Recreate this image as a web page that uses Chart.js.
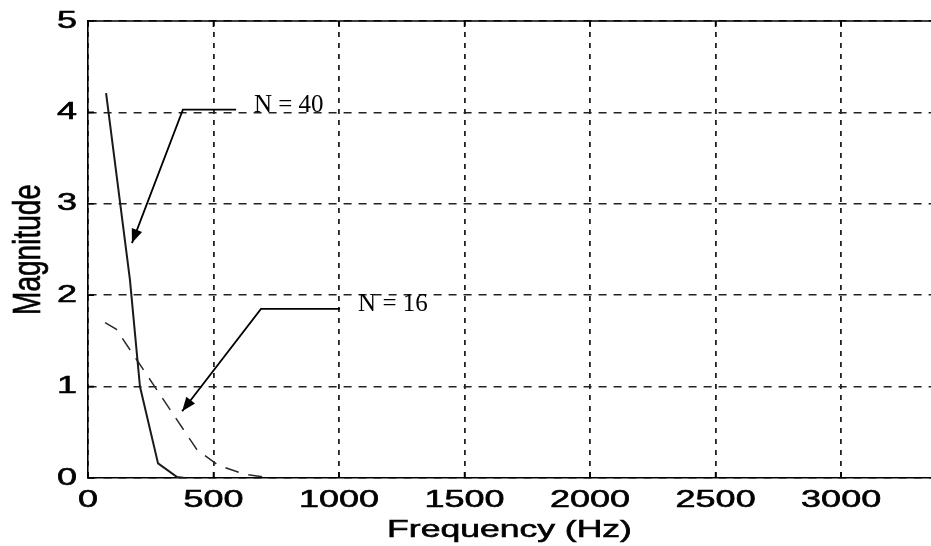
<!DOCTYPE html>
<html>
<head>
<meta charset="utf-8">
<title>Magnitude vs Frequency</title>
<script src="https://cdn.jsdelivr.net/npm/chart.js@4.4.1/dist/chart.umd.min.js"></script>
<style>
  html, body { margin: 0; padding: 0; background: #fff; overflow: hidden; }
  canvas { display: block; }
</style>
</head>
<body>
<canvas id="spectrum" width="931" height="546"></canvas>
<script>
// magnitude response, N = 40 (solid)
const freqN40 = [72, 167, 207, 279, 355, 386];
const magN40  = [4.21, 2.17, 1.0, 0.16, 0.01, 0];

// magnitude response, N = 16 (dashed)
const freqN16 = [68, 112, 434, 518, 625, 733];
const magN16  = [1.70, 1.63, 0.31, 0.14, 0.04, 0];

const xTicks = [0, 500, 1000, 1500, 2000, 2500, 3000];
const yTicks = [0, 1, 2, 3, 4, 5];

// callouts: label anchor, leader start, elbow, arrow tip (all in data units)
const calloutText  = ['N = 40', 'N = 16'];
const calloutLabel = [[661, 4.0], [1076, 1.83]];
const calloutStart = [[590, 4.03], [1004, 1.85]];
const calloutElbow = [[378, 4.03], [689, 1.85]];
const calloutTip   = [[175, 2.57], [375, 0.73]];

const SANS = '"Liberation Sans", Arial, sans-serif';
const SERIF = '"Liberation Serif", "Times New Roman", serif';

function toPoints(xs, ys) {
  return xs.map((x, i) => ({ x: x, y: ys[i] }));
}

// text drawn with a horizontal stretch (the old plot fonts are wide)
function wideText(ctx, text, x, y, sx, sy, align, baseline) {
  ctx.save();
  ctx.translate(x, y);
  ctx.scale(sx, sy);
  ctx.textAlign = align;
  ctx.textBaseline = baseline;
  ctx.fillText(text, 0, 0);
  ctx.lineWidth = 0.6;
  ctx.strokeText(text, 0, 0);
  ctx.restore();
}

function arrowHead(ctx, fx, fy, tx, ty) {
  const ang = Math.atan2(ty - fy, tx - fx);
  const len = 14, half = 5.5;
  ctx.beginPath();
  ctx.moveTo(tx, ty);
  ctx.lineTo(tx - len * Math.cos(ang) + half * Math.sin(ang), ty - len * Math.sin(ang) - half * Math.cos(ang));
  ctx.lineTo(tx - len * Math.cos(ang) - half * Math.sin(ang), ty - len * Math.sin(ang) + half * Math.cos(ang));
  ctx.closePath();
  ctx.fill();
}

const axisDecor = {
  id: 'axisDecor',
  afterDraw(chart) {
    const ctx = chart.ctx;
    const a = chart.chartArea;
    const xs = chart.scales.x, ys = chart.scales.y;
    ctx.save();

    // top edge of the frame
    ctx.strokeStyle = '#000';
    ctx.lineWidth = 1.6;
    ctx.beginPath();
    ctx.moveTo(a.left, a.top);
    ctx.lineTo(chart.width, a.top);
    ctx.stroke();

    // short inward ticks
    ctx.beginPath();
    xTicks.forEach(v => {
      const px = xs.getPixelForValue(v);
      ctx.moveTo(px, a.bottom); ctx.lineTo(px, a.bottom - 6);
      ctx.moveTo(px, a.top); ctx.lineTo(px, a.top + 6);
    });
    yTicks.forEach(v => {
      const py = ys.getPixelForValue(v);
      ctx.moveTo(a.left, py); ctx.lineTo(a.left + 6, py);
    });
    ctx.stroke();

    // tick labels
    ctx.fillStyle = '#000';
    ctx.strokeStyle = '#000';
    ctx.font = '24px ' + SANS;
    xTicks.forEach(v => wideText(ctx, String(v), xs.getPixelForValue(v), a.bottom + 22, 1.5, 1, 'center', 'middle'));
    yTicks.forEach(v => wideText(ctx, String(v), a.left - 11, ys.getPixelForValue(v), 1.5, 1, 'right', 'middle'));

    // axis titles
    wideText(ctx, 'Frequency (Hz)', (a.left + chart.width) / 2, a.bottom + 59, 1.48, 1, 'center', 'alphabetic');
    ctx.save();
    ctx.font = '28px ' + SANS;
    ctx.translate(40, (a.top + a.bottom) / 2);
    ctx.rotate(-Math.PI / 2);
    ctx.scale(1, 1.37);
    ctx.textAlign = 'center';
    ctx.textBaseline = 'alphabetic';
    ctx.fillText('Magnitude', 0, 0);
    ctx.lineWidth = 0.5;
    ctx.strokeText('Magnitude', 0, 0);
    ctx.restore();

    // callouts with arrows
    ctx.lineWidth = 1.8;
    ctx.strokeStyle = '#000';
    ctx.font = '25px ' + SERIF;
    ctx.textAlign = 'left';
    ctx.textBaseline = 'alphabetic';
    calloutText.forEach((t, i) => {
      const s = [xs.getPixelForValue(calloutStart[i][0]), ys.getPixelForValue(calloutStart[i][1])];
      const e = [xs.getPixelForValue(calloutElbow[i][0]), ys.getPixelForValue(calloutElbow[i][1])];
      const tp = [xs.getPixelForValue(calloutTip[i][0]), ys.getPixelForValue(calloutTip[i][1])];
      ctx.beginPath();
      ctx.moveTo(s[0], s[1]);
      ctx.lineTo(e[0], e[1]);
      ctx.lineTo(tp[0], tp[1]);
      ctx.stroke();
      arrowHead(ctx, e[0], e[1], tp[0], tp[1]);
      ctx.fillText(t, xs.getPixelForValue(calloutLabel[i][0]), ys.getPixelForValue(calloutLabel[i][1]));
    });

    ctx.restore();
  }
};

new Chart(document.getElementById('spectrum'), {
  type: 'line',
  data: {
    datasets: [
      {
        label: 'N = 40',
        data: toPoints(freqN40, magN40),
        borderColor: '#1a1a1a',
        borderWidth: 2,
        pointRadius: 0,
        tension: 0,
        fill: false
      },
      {
        label: 'N = 16',
        data: toPoints(freqN16, magN16),
        borderColor: '#2a2a2a',
        borderWidth: 1.5,
        borderDash: [14, 10],
        pointRadius: 0,
        tension: 0,
        fill: false
      }
    ]
  },
  options: {
    responsive: false,
    animation: false,
    devicePixelRatio: 1,
    layout: { padding: { left: 88, top: 21, right: 0, bottom: 68 } },
    plugins: { legend: { display: false }, tooltip: { enabled: false } },
    scales: {
      x: {
        type: 'linear',
        min: 0,
        max: 3358,
        afterBuildTicks: s => { s.ticks = xTicks.map(v => ({ value: v })); },
        ticks: { display: false },
        grid: { color: '#222', lineWidth: 1.8, drawTicks: false },
        border: { display: true, color: '#000', width: 1.6, dash: [5, 6] }
      },
      y: {
        min: 0,
        max: 5,
        afterBuildTicks: s => { s.ticks = yTicks.map(v => ({ value: v })); },
        ticks: { display: false },
        grid: { color: '#222', lineWidth: 1.6, drawTicks: false },
        border: { display: true, color: '#000', width: 1.6, dash: [8, 7] }
      }
    }
  },
  plugins: [axisDecor]
});
</script>
</body>
</html>
